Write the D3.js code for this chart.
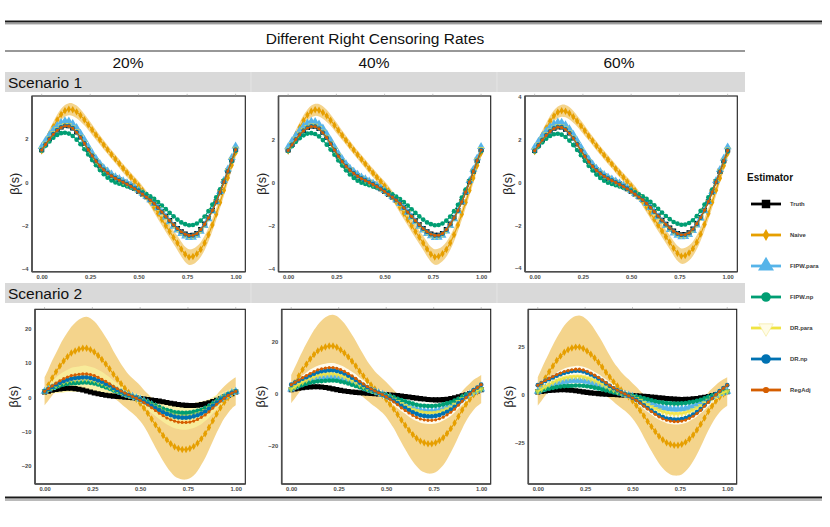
<!DOCTYPE html>
<html><head><meta charset="utf-8">
<script src="https://cdn.jsdelivr.net/npm/d3@7"></script>
<style>
body{margin:0;background:#fff}
svg text{font-family:"Liberation Sans",Arial,Helvetica,sans-serif}
</style>
</head><body>
<svg id="c" width="830" height="527"></svg>
<script>
// ---------------- data ----------------
const rates = ["20%", "40%", "60%"];
const scenarios = ["Scenario 1", "Scenario 2"];
const estimators = ["Truth", "Naive", "FIPW.para", "FIPW.np", "DR.para", "DR.np", "RegAdj"];
const sGrid = d3.range(51).map(i => i / 50);
const xTickValues = [0, 0.25, 0.5, 0.75, 1];
const yTickValues = [
  [[-4, -2, 0, 2], [-4, -2, 0, 2], [-4, -2, 0, 2, 4]],
  [[-20, -10, 0, 10, 20], [-20, 0, 20], [-25, 0, 25]]
];

// true coefficient function (same in both scenarios)
const truthCurve = [1.50,1.76,2.01,2.23,2.41,2.54,2.61,2.60,2.50,2.32,2.08,1.80,1.51,1.23,0.98,0.76,0.58,0.43,0.30,0.19,0.10,0.01,-0.08,-0.18,-0.29,-0.41,-0.54,-0.67,-0.81,-0.97,-1.16,-1.36,-1.57,-1.77,-1.96,-2.13,-2.28,-2.39,-2.45,-2.44,-2.36,-2.18,-1.93,-1.64,-1.30,-0.90,-0.45,0.03,0.52,1.02,1.52];

// Scenario 1 (all three censoring rates look alike)
const s1Naive = [1.45,1.85,2.22,2.55,2.87,3.12,3.29,3.36,3.34,3.24,3.08,2.88,2.65,2.42,2.18,1.95,1.72,1.50,1.28,1.07,0.86,0.64,0.44,0.24,0.04,-0.16,-0.38,-0.62,-0.88,-1.16,-1.44,-1.72,-2.00,-2.27,-2.54,-2.80,-3.08,-3.32,-3.45,-3.42,-3.30,-3.10,-2.80,-2.42,-1.97,-1.47,-0.93,-0.37,0.20,0.78,1.35];
const s1NaiveHalfWidth = [0.19,0.2,0.22,0.23,0.25,0.26,0.27,0.28,0.29,0.29,0.28,0.26,0.25,0.24,0.22,0.21,0.21,0.2,0.2,0.2,0.2,0.2,0.2,0.2,0.2,0.21,0.21,0.22,0.23,0.25,0.26,0.27,0.29,0.3,0.31,0.33,0.34,0.35,0.36,0.36,0.35,0.34,0.33,0.31,0.29,0.27,0.26,0.25,0.23,0.22,0.21];
const s1FipwPara = [1.64,1.92,2.18,2.41,2.60,2.74,2.82,2.81,2.70,2.51,2.25,1.96,1.65,1.35,1.09,0.86,0.66,0.51,0.37,0.25,0.16,0.06,-0.03,-0.14,-0.26,-0.38,-0.52,-0.66,-0.81,-0.98,-1.18,-1.39,-1.61,-1.83,-2.03,-2.21,-2.37,-2.48,-2.55,-2.54,-2.45,-2.26,-2.00,-1.69,-1.33,-0.90,-0.43,0.08,0.60,1.13,1.66];
const s1FipwNp = [1.45,1.68,1.88,2.05,2.18,2.26,2.28,2.24,2.13,1.96,1.75,1.52,1.28,1.02,0.78,0.56,0.37,0.21,0.08,-0.01,-0.07,-0.13,-0.19,-0.25,-0.31,-0.38,-0.46,-0.55,-0.65,-0.77,-0.91,-1.07,-1.24,-1.41,-1.57,-1.72,-1.85,-1.93,-1.98,-1.97,-1.90,-1.77,-1.58,-1.33,-1.03,-0.70,-0.33,0.07,0.50,0.97,1.45];
const s1DrPara = [1.52,1.78,2.03,2.26,2.44,2.57,2.64,2.63,2.53,2.35,2.10,1.82,1.53,1.25,0.99,0.77,0.59,0.44,0.31,0.20,0.10,0.01,-0.08,-0.18,-0.30,-0.42,-0.55,-0.68,-0.83,-0.99,-1.18,-1.38,-1.60,-1.80,-1.99,-2.17,-2.32,-2.43,-2.49,-2.48,-2.40,-2.22,-1.96,-1.66,-1.32,-0.91,-0.46,0.03,0.53,1.04,1.55];
const s1DrNp = [1.49,1.75,2.00,2.22,2.40,2.53,2.60,2.59,2.49,2.31,2.07,1.80,1.51,1.23,0.98,0.76,0.58,0.43,0.30,0.19,0.10,0.01,-0.08,-0.18,-0.29,-0.41,-0.54,-0.68,-0.82,-0.98,-1.17,-1.37,-1.58,-1.78,-1.97,-2.14,-2.29,-2.40,-2.46,-2.45,-2.37,-2.19,-1.94,-1.65,-1.31,-0.91,-0.46,0.02,0.51,1.01,1.50];
const s1RegAdj = [1.48,1.74,1.99,2.21,2.39,2.52,2.59,2.58,2.48,2.30,2.07,1.79,1.50,1.22,0.97,0.75,0.57,0.42,0.29,0.18,0.09,0.00,-0.09,-0.19,-0.30,-0.42,-0.55,-0.68,-0.82,-0.98,-1.17,-1.37,-1.57,-1.77,-1.96,-2.13,-2.28,-2.39,-2.45,-2.44,-2.36,-2.18,-1.93,-1.64,-1.30,-0.90,-0.45,0.02,0.51,1.01,1.50];

// Scenario 2, 20%
const s2Naive20 = [1.7,3.6,5.6,7.4,9.1,10.6,11.8,12.9,13.5,14.0,14.3,14.3,13.9,13.2,12.2,11.0,9.7,8.3,6.7,5.3,3.9,2.6,1.4,0.4,-0.6,-1.8,-3.2,-4.7,-6.4,-8.1,-9.6,-11.2,-12.5,-13.6,-14.5,-15.0,-15.3,-15.3,-15.0,-14.4,-13.5,-12.2,-10.7,-8.9,-6.9,-4.9,-3.1,-1.5,-0.2,0.9,1.7];
const s2NaiveHalfWidth20 = [4.1,4.6,5.1,5.5,6.1,6.6,7.2,7.7,8.3,8.7,9.0,9.2,9.2,9.0,8.7,8.3,7.8,7.4,6.8,6.3,5.8,5.5,5.2,5.1,5.1,5.2,5.3,5.7,6.2,6.6,7.1,7.5,7.9,8.3,8.6,8.7,8.8,8.8,8.7,8.5,8.1,7.6,7.1,6.5,6.0,5.5,5.1,4.7,4.4,4.2,4.1];
const s2FipwPara20 = [1.7,2.3,2.8,3.3,3.8,4.2,4.5,4.7,4.8,4.9,5.0,5.0,4.9,4.6,4.3,3.9,3.4,2.9,2.4,1.9,1.4,0.9,0.5,0.2,-0.2,-0.6,-1.1,-1.6,-2.2,-2.8,-3.3,-3.9,-4.3,-4.7,-5.0,-5.2,-5.3,-5.3,-5.2,-5.0,-4.7,-4.2,-3.7,-3.0,-2.2,-1.4,-0.6,0.1,0.7,1.3,1.7];
const s2FipwNp20 = [1.7,2.2,2.6,3.0,3.4,3.7,3.9,4.1,4.1,4.2,4.3,4.3,4.2,4.0,3.7,3.3,2.9,2.5,2.0,1.6,1.2,0.8,0.4,0.1,-0.2,-0.6,-1.0,-1.4,-1.9,-2.4,-2.9,-3.4,-3.8,-4.1,-4.4,-4.5,-4.6,-4.6,-4.5,-4.3,-4.0,-3.7,-3.2,-2.6,-1.9,-1.1,-0.5,0.2,0.8,1.3,1.7];
const s2DrPara20 = [1.7,2.3,2.9,3.5,4.0,4.4,4.8,5.1,5.2,5.3,5.4,5.4,5.2,5.0,4.6,4.2,3.7,3.1,2.5,2.0,1.5,1.0,0.5,0.2,-0.2,-0.7,-1.2,-1.8,-2.4,-3.0,-3.6,-4.2,-4.7,-5.1,-5.4,-5.6,-5.7,-5.7,-5.6,-5.4,-5.0,-4.6,-4.0,-3.3,-2.4,-1.5,-0.7,0.0,0.7,1.3,1.7];
const s2DrParaHalfWidth20 = [1.1,1.5,1.9,2.3,2.7,3.0,3.2,3.5,3.6,3.7,3.8,3.8,3.7,3.6,3.4,3.2,2.9,2.7,2.4,2.1,1.9,1.6,1.4,1.2,1.2,1.5,1.7,2.0,2.3,2.5,2.8,3.1,3.3,3.5,3.7,3.7,3.8,3.8,3.7,3.6,3.5,3.3,3.0,2.7,2.4,2.1,1.8,1.6,1.4,1.2,1.1];
const s2DrNp20 = [1.7,2.4,3.0,3.7,4.2,4.7,5.1,5.4,5.6,5.7,5.8,5.8,5.6,5.3,4.9,4.5,3.9,3.4,2.7,2.1,1.6,1.0,0.6,0.2,-0.2,-0.7,-1.3,-1.9,-2.5,-3.2,-3.8,-4.4,-4.9,-5.3,-5.7,-5.9,-6.0,-6.0,-5.9,-5.6,-5.3,-4.8,-4.2,-3.4,-2.5,-1.6,-0.8,-0.1,0.7,1.3,1.7];
const s2RegAdj20 = [1.7,2.5,3.3,4.1,4.8,5.4,5.9,6.3,6.5,6.7,6.8,6.8,6.6,6.3,5.8,5.2,4.6,3.9,3.2,2.5,1.8,1.2,0.7,0.2,-0.3,-0.9,-1.6,-2.3,-3.1,-3.9,-4.7,-5.4,-6.1,-6.6,-7.0,-7.3,-7.4,-7.4,-7.3,-7.0,-6.5,-5.9,-5.2,-4.3,-3.2,-2.1,-1.2,-0.3,0.5,1.2,1.7];

// Scenario 2, 40%
const s2Naive40 = [1.7,4.2,6.8,9.2,11.3,13.3,15.0,16.4,17.3,17.9,18.3,18.3,17.8,16.8,15.6,14.1,12.4,10.6,8.6,6.8,4.9,3.3,1.8,0.5,-0.8,-2.3,-4.1,-6.0,-8.1,-10.2,-12.2,-14.1,-15.8,-17.2,-18.3,-18.9,-19.3,-19.3,-18.9,-18.1,-17.0,-15.4,-13.5,-11.3,-8.8,-6.3,-4.1,-2.2,-0.5,0.7,1.7];
const s2NaiveHalfWidth40 = [5.4,6.0,6.6,7.2,7.9,8.6,9.4,10.1,10.8,11.4,11.8,12.0,12.0,11.8,11.4,10.8,10.2,9.6,8.9,8.2,7.6,7.2,6.8,6.6,6.6,6.7,7.0,7.4,8.0,8.6,9.2,9.8,10.3,10.8,11.2,11.4,11.5,11.5,11.4,11.0,10.6,10.0,9.2,8.5,7.8,7.2,6.6,6.1,5.8,5.5,5.4];
const s2FipwPara40 = [1.7,2.5,3.3,4.0,4.6,5.2,5.6,6.0,6.2,6.4,6.5,6.5,6.3,6.0,5.5,5.0,4.4,3.8,3.1,2.4,1.8,1.2,0.7,0.2,-0.3,-0.8,-1.4,-2.1,-2.9,-3.6,-4.3,-5.0,-5.6,-6.1,-6.5,-6.7,-6.8,-6.8,-6.7,-6.4,-6.0,-5.4,-4.8,-3.9,-2.9,-1.9,-1.0,-0.2,0.6,1.2,1.7];
const s2FipwNp40 = [1.7,2.3,2.8,3.3,3.8,4.2,4.5,4.7,4.8,4.9,5.0,5.0,4.9,4.6,4.3,3.9,3.4,2.9,2.4,1.9,1.4,0.9,0.5,0.2,-0.2,-0.6,-1.0,-1.5,-2.0,-2.5,-3.0,-3.5,-3.9,-4.3,-4.6,-4.7,-4.8,-4.8,-4.7,-4.5,-4.2,-3.8,-3.4,-2.7,-2.0,-1.2,-0.5,0.1,0.8,1.3,1.7];
const s2DrPara40 = [1.7,2.6,3.6,4.4,5.2,5.9,6.4,6.9,7.2,7.4,7.5,7.5,7.3,6.9,6.4,5.8,5.1,4.4,3.5,2.8,2.0,1.4,0.8,0.2,-0.3,-0.9,-1.6,-2.3,-3.2,-4.0,-4.7,-5.5,-6.2,-6.7,-7.1,-7.4,-7.5,-7.5,-7.4,-7.1,-6.6,-6.0,-5.3,-4.3,-3.2,-2.1,-1.2,-0.3,0.5,1.2,1.7];
const s2DrParaHalfWidth40 = [1.3,1.7,2.1,2.6,2.9,3.3,3.6,3.8,4.0,4.1,4.2,4.2,4.1,4.0,3.8,3.5,3.3,3.0,2.6,2.3,2.1,1.8,1.6,1.3,1.4,1.6,1.9,2.2,2.5,2.8,3.1,3.4,3.7,3.9,4.1,4.1,4.2,4.2,4.1,4.0,3.8,3.6,3.3,3.0,2.6,2.3,2.0,1.7,1.5,1.4,1.3];
const s2DrNp40 = [3.4,4.2,4.9,5.7,6.3,7.0,7.6,8.2,8.6,8.8,9.0,9.0,8.7,8.3,7.7,6.9,6.1,5.2,4.2,3.3,2.4,1.6,0.9,0.3,-0.4,-1.1,-1.8,-2.7,-3.7,-4.7,-5.5,-6.4,-7.2,-7.8,-8.4,-8.6,-8.8,-8.8,-8.6,-8.3,-7.7,-7.0,-6.2,-5.1,-3.8,-2.5,-1.2,0.1,1.3,2.3,3.4];
const s2RegAdj40 = [3.4,4.3,5.2,6.1,6.9,7.7,8.4,9.1,9.5,9.8,10.0,10.0,9.7,9.2,8.5,7.7,6.8,5.8,4.7,3.7,2.7,1.8,1.0,0.3,-0.4,-1.2,-2.2,-3.2,-4.3,-5.5,-6.5,-7.5,-8.4,-9.2,-9.8,-10.1,-10.3,-10.3,-10.1,-9.7,-9.1,-8.2,-7.2,-6.0,-4.5,-3.0,-1.6,-0.2,1.2,2.3,3.4];

// Scenario 2, 60%
const s2Naive60 = [1.7,5.2,8.7,12.0,15.0,17.8,20.1,22.1,23.4,24.3,24.8,24.8,24.1,22.8,21.1,19.1,16.9,14.4,11.7,9.2,6.7,4.5,2.5,0.7,-1.1,-3.2,-5.5,-8.2,-11.0,-13.9,-16.6,-19.2,-21.6,-23.4,-25.0,-25.8,-26.3,-26.3,-25.8,-24.7,-23.1,-21.0,-18.4,-15.4,-12.1,-8.7,-5.9,-3.3,-1.2,0.4,1.7];
const s2NaiveHalfWidth60 = [7.4,8.3,9.1,9.9,10.9,11.9,12.9,13.9,14.9,15.7,16.2,16.5,16.5,16.2,15.7,14.9,14.0,13.2,12.2,11.2,10.4,9.9,9.4,9.1,9.1,9.2,9.6,10.2,11.1,11.9,12.7,13.5,14.2,14.9,15.3,15.7,15.8,15.8,15.7,15.2,14.5,13.7,12.7,11.7,10.7,9.9,9.1,8.4,7.9,7.6,7.4];
const s2FipwPara60 = [1.7,2.6,3.6,4.4,5.2,5.9,6.4,6.9,7.2,7.4,7.5,7.5,7.3,6.9,6.4,5.8,5.1,4.4,3.5,2.8,2.0,1.4,0.8,0.2,-0.3,-0.9,-1.6,-2.3,-3.2,-4.0,-4.7,-5.5,-6.2,-6.7,-7.1,-7.4,-7.5,-7.5,-7.4,-7.1,-6.6,-6.0,-5.3,-4.3,-3.2,-2.1,-1.2,-0.3,0.5,1.2,1.7];
const s2FipwNp60 = [1.7,2.2,2.7,3.2,3.6,4.0,4.3,4.5,4.6,4.7,4.8,4.8,4.7,4.4,4.1,3.7,3.3,2.8,2.3,1.8,1.3,0.9,0.5,0.1,-0.2,-0.6,-1.0,-1.4,-1.9,-2.4,-2.9,-3.4,-3.8,-4.1,-4.4,-4.5,-4.6,-4.6,-4.5,-4.3,-4.0,-3.7,-3.2,-2.6,-1.9,-1.1,-0.5,0.2,0.8,1.3,1.7];
const s2DrPara60 = [1.7,2.9,4.2,5.3,6.3,7.3,8.0,8.7,9.0,9.3,9.5,9.5,9.2,8.7,8.1,7.3,6.5,5.5,4.5,3.5,2.6,1.7,1.0,0.3,-0.4,-1.2,-2.1,-3.1,-4.2,-5.3,-6.3,-7.3,-8.2,-8.9,-9.5,-9.8,-10.0,-10.0,-9.8,-9.4,-8.8,-8.0,-7.0,-5.8,-4.4,-3.0,-1.8,-0.7,0.3,1.1,1.7];
const s2DrParaHalfWidth60 = [1.7,2.2,2.8,3.3,3.8,4.3,4.7,5.0,5.3,5.4,5.5,5.5,5.4,5.2,4.9,4.6,4.3,3.9,3.5,3.1,2.7,2.3,2.0,1.8,1.8,2.1,2.5,2.8,3.3,3.7,4.1,4.5,4.8,5.1,5.3,5.4,5.5,5.5,5.4,5.3,5.0,4.7,4.3,3.9,3.5,3.0,2.6,2.3,2.0,1.8,1.7];
const s2DrNp60 = [5.0,6.1,7.2,8.1,9.0,9.9,10.7,11.4,11.9,12.3,12.5,12.5,12.1,11.5,10.6,9.6,8.5,7.3,5.9,4.6,3.4,2.3,1.3,0.4,-0.5,-1.6,-2.7,-4.0,-5.5,-6.9,-8.2,-9.5,-10.7,-11.6,-12.4,-12.7,-13.0,-13.0,-12.7,-12.2,-11.4,-10.4,-9.1,-7.5,-5.5,-3.6,-1.7,0.2,1.9,3.5,5.0];
const s2RegAdj60 = [5.0,6.2,7.4,8.5,9.5,10.5,11.3,12.1,12.6,13.0,13.3,13.3,12.9,12.2,11.3,10.2,9.0,7.7,6.3,4.9,3.6,2.4,1.3,0.4,-0.6,-1.7,-2.9,-4.3,-5.9,-7.4,-8.8,-10.2,-11.5,-12.5,-13.3,-13.7,-14.0,-14.0,-13.7,-13.2,-12.3,-11.2,-9.8,-8.1,-6.0,-3.9,-1.9,0.1,1.8,3.4,5.0];

// ---------------- assemble panels ----------------
const s1Series = {"Truth": truthCurve, "Naive": s1Naive, "FIPW.para": s1FipwPara, "FIPW.np": s1FipwNp, "DR.para": s1DrPara, "DR.np": s1DrNp, "RegAdj": s1RegAdj};
const panels = [
  {sc:0, r:0, series:s1Series, naiveW:s1NaiveHalfWidth, drW:null},
  {sc:0, r:1, series:s1Series, naiveW:s1NaiveHalfWidth, drW:null},
  {sc:0, r:2, series:s1Series, naiveW:s1NaiveHalfWidth, drW:null},
  {sc:1, r:0, series:{"Truth":truthCurve,"Naive":s2Naive20,"FIPW.para":s2FipwPara20,"FIPW.np":s2FipwNp20,"DR.para":s2DrPara20,"DR.np":s2DrNp20,"RegAdj":s2RegAdj20}, naiveW:s2NaiveHalfWidth20, drW:s2DrParaHalfWidth20},
  {sc:1, r:1, series:{"Truth":truthCurve,"Naive":s2Naive40,"FIPW.para":s2FipwPara40,"FIPW.np":s2FipwNp40,"DR.para":s2DrPara40,"DR.np":s2DrNp40,"RegAdj":s2RegAdj40}, naiveW:s2NaiveHalfWidth40, drW:s2DrParaHalfWidth40},
  {sc:1, r:2, series:{"Truth":truthCurve,"Naive":s2Naive60,"FIPW.para":s2FipwPara60,"FIPW.np":s2FipwNp60,"DR.para":s2DrPara60,"DR.np":s2DrNp60,"RegAdj":s2RegAdj60}, naiveW:s2NaiveHalfWidth60, drW:s2DrParaHalfWidth60}
];

// ---------------- layout & style ----------------
const colors = {"Truth":"#000000","Naive":"#E69F00","FIPW.para":"#56B4E9","FIPW.np":"#009E73","DR.para":"#F0E442","DR.np":"#0072B2","RegAdj":"#D55E00"};
const shapes = {
  "Truth":{t:d3.symbolSquare, s:26, leg:72, rot:0},
  "Naive":{t:d3.symbolDiamond, s:16, leg:40, rot:0},
  "FIPW.para":{t:d3.symbolTriangle, s:28, leg:110, rot:0},
  "FIPW.np":{t:d3.symbolCircle, s:17, leg:72, rot:0},
  "DR.para":{t:d3.symbolTriangle, s:18, leg:90, rot:180},
  "DR.np":{t:d3.symbolCircle, s:17, leg:72, rot:0},
  "RegAdj":{t:d3.symbolCircle, s:8, leg:30, rot:0}
};
const boxX = [
  [[32,245.3],[278.5,490.7],[525,737.3]],
  [[35,245.3],[281.7,490.7],[528.3,736.7]]
];
const boxY = [[96,271.7],[309.3,484]];
const yDomains = [
  [[-4.12,3.97],[-4.13,4.0],[-4.18,4.05]],
  [[-25.4,25.7],[-34.8,32.4],[-46.5,44.5]]
];
const ylabX = [[15,262,508],[14,261,509]];

const svg = d3.select("#c");

// header rules & titles
svg.append("rect").attr("x",5).attr("y",20.5).attr("width",817).attr("height",2).attr("fill","#1a1a1a");
svg.append("rect").attr("x",5).attr("y",23.3).attr("width",817).attr("height",1).attr("fill","#777");
svg.append("text").attr("x",375).attr("y",43.5).attr("text-anchor","middle").attr("font-size",15.5).attr("fill","#111").text("Different Right Censoring Rates");
svg.append("line").attr("x1",5).attr("x2",745).attr("y1",51).attr("y2",51).attr("stroke","#333").attr("stroke-width",1.2);
const colCenters = [128,374,619];
rates.forEach((r,i)=>{
  svg.append("text").attr("x",colCenters[i]).attr("y",67.5).attr("text-anchor","middle").attr("font-size",15.5).attr("fill","#111").text(r);
});
const stripY = [72,283];
scenarios.forEach((sc,i)=>{
  svg.append("rect").attr("x",5).attr("y",stripY[i]).attr("width",740).attr("height",20).attr("fill","#D9D9D9");
  [251,497].forEach(xx=>svg.append("line").attr("x1",xx).attr("x2",xx).attr("y1",stripY[i]).attr("y2",stripY[i]+20).attr("stroke","#E4E4E4").attr("stroke-width",1));
  svg.append("text").attr("x",8).attr("y",stripY[i]+15.5).attr("font-size",15.5).attr("fill","#111").text(sc);
});
svg.append("rect").attr("x",5).attr("y",496.5).attr("width",817).attr("height",2).attr("fill","#1a1a1a");
svg.append("rect").attr("x",5).attr("y",499.5).attr("width",817).attr("height",1).attr("fill","#777");

// panels
panels.forEach(p=>{
  const [x0,x1] = boxX[p.sc][p.r];
  const [y0,y1] = boxY[p.sc];
  const x = d3.scaleLinear().domain([-0.05,1.05]).range([x0,x1]);
  const y = d3.scaleLinear().domain(yDomains[p.sc][p.r]).range([y1,y0]);
  const g = svg.append("g");
  const cid = `clip${p.sc}${p.r}`;
  g.append("clipPath").attr("id",cid).append("rect").attr("x",x0).attr("y",y0).attr("width",x1-x0).attr("height",y1-y0);
  const pg = g.append("g").attr("clip-path",`url(#${cid})`);

  const naive = p.series["Naive"];
  const band = d3.area().curve(d3.curveCatmullRom)
    .x((d,i)=>x(sGrid[i]));
  pg.append("path").datum(naive)
    .attr("d", band.y0((d,i)=>y(d - p.naiveW[i])).y1((d,i)=>y(d + p.naiveW[i])))
    .attr("fill","#E69F00").attr("fill-opacity",0.45);
  if (p.drW) {
    const dr = p.series["DR.para"];
    const band2 = d3.area().curve(d3.curveCatmullRom).x((d,i)=>x(sGrid[i]))
      .y0((d,i)=>y(d - p.drW[i])).y1((d,i)=>y(d + p.drW[i]));
    pg.append("path").datum(dr).attr("d",band2)
      .attr("fill", p.r===0 ? "#F8EF9C" : "#FFFEF4").attr("fill-opacity", p.r===0 ? 0.85 : 0.92);
  }
  const line = d3.line().x((d,i)=>x(sGrid[i])).y(d=>y(d));
  estimators.forEach(est=>{
    const vals = p.series[est];
    const col = colors[est];
    pg.append("path").datum(vals).attr("d",line).attr("fill","none")
      .attr("stroke",col).attr("stroke-width", est==="Truth"?1.5:1.1);
    const sh = shapes[est];
    const sym = d3.symbol().type(sh.t).size(sh.s)();
    pg.append("g").selectAll("path").data(vals).join("path")
      .attr("d",sym)
      .attr("transform",(d,i)=>`translate(${x(sGrid[i])},${y(d)}) rotate(${sh.rot})`)
      .attr("fill",col).attr("fill-opacity", est==="DR.para"?0.75:1);
  });

  // frame
  g.append("rect").attr("x",x0).attr("y",y0).attr("width",x1-x0).attr("height",y1-y0)
    .attr("fill","none").attr("stroke","#1a1a1a").attr("stroke-width",1.1);
  g.append("line").attr("x1",x0).attr("x2",x0).attr("y1",y0).attr("y2",y1).attr("stroke","#4d4d4d").attr("stroke-width",1.6);
  g.append("line").attr("x1",x0).attr("x2",x1).attr("y1",y1).attr("y2",y1).attr("stroke","#4d4d4d").attr("stroke-width",1.6);
  xTickValues.forEach(t=>g.append("line").attr("x1",x(t)).attr("x2",x(t)).attr("y1",y0-2.2).attr("y2",y0).attr("stroke","#999").attr("stroke-width",0.6));

  // axes
  const ax = g.append("g").attr("transform",`translate(0,${y1})`)
    .call(d3.axisBottom(x).tickValues(xTickValues).tickFormat(d3.format(".2f")).tickSize(0).tickPadding(3));
  const ay = g.append("g").attr("transform",`translate(${x0},0)`)
    .call(d3.axisLeft(y).tickValues(yTickValues[p.sc][p.r]).tickFormat(d3.format("d")).tickSize(0).tickPadding(3.5));
  [ax,ay].forEach(a=>{
    a.select(".domain").remove();
    a.selectAll("text").attr("font-size",5.8).attr("font-weight","bold").attr("fill","#4a4a4a")
      .attr("font-family","'Liberation Sans',Arial,sans-serif");
  });

  svg.append("text").attr("transform",`translate(${ylabX[p.sc][p.r]},${(y0+y1)/2}) rotate(-90)`)
    .attr("text-anchor","middle").attr("dy","0.35em").attr("font-size",12.5).attr("fill","#222").text("β(s)");
});

// legend
const lg = svg.append("g");
lg.append("text").attr("x",747).attr("y",181).attr("font-size",10).attr("font-weight","bold").attr("fill","#111").text("Estimator");
const legY = [204,235,266,297,328,359,390];
estimators.forEach((est,i)=>{
  const yy = legY[i];
  lg.append("line").attr("x1",751).attr("x2",781).attr("y1",yy).attr("y2",yy)
    .attr("stroke",colors[est]).attr("stroke-width",2.8);
  const sh = shapes[est];
  const m = lg.append("path").attr("d",d3.symbol().type(sh.t).size(sh.leg)())
    .attr("transform",`translate(766,${yy}) rotate(${sh.rot})`);
  if (est==="DR.para") m.attr("fill","#FFFCE6").attr("stroke","#F3EBA0").attr("stroke-width",0.7);
  else m.attr("fill",colors[est]);
  lg.append("text").attr("x",790).attr("y",yy+2).attr("font-size",5.9).attr("font-weight","bold").attr("fill","#3a3a3a").text(est);
});
</script>
</body></html>
